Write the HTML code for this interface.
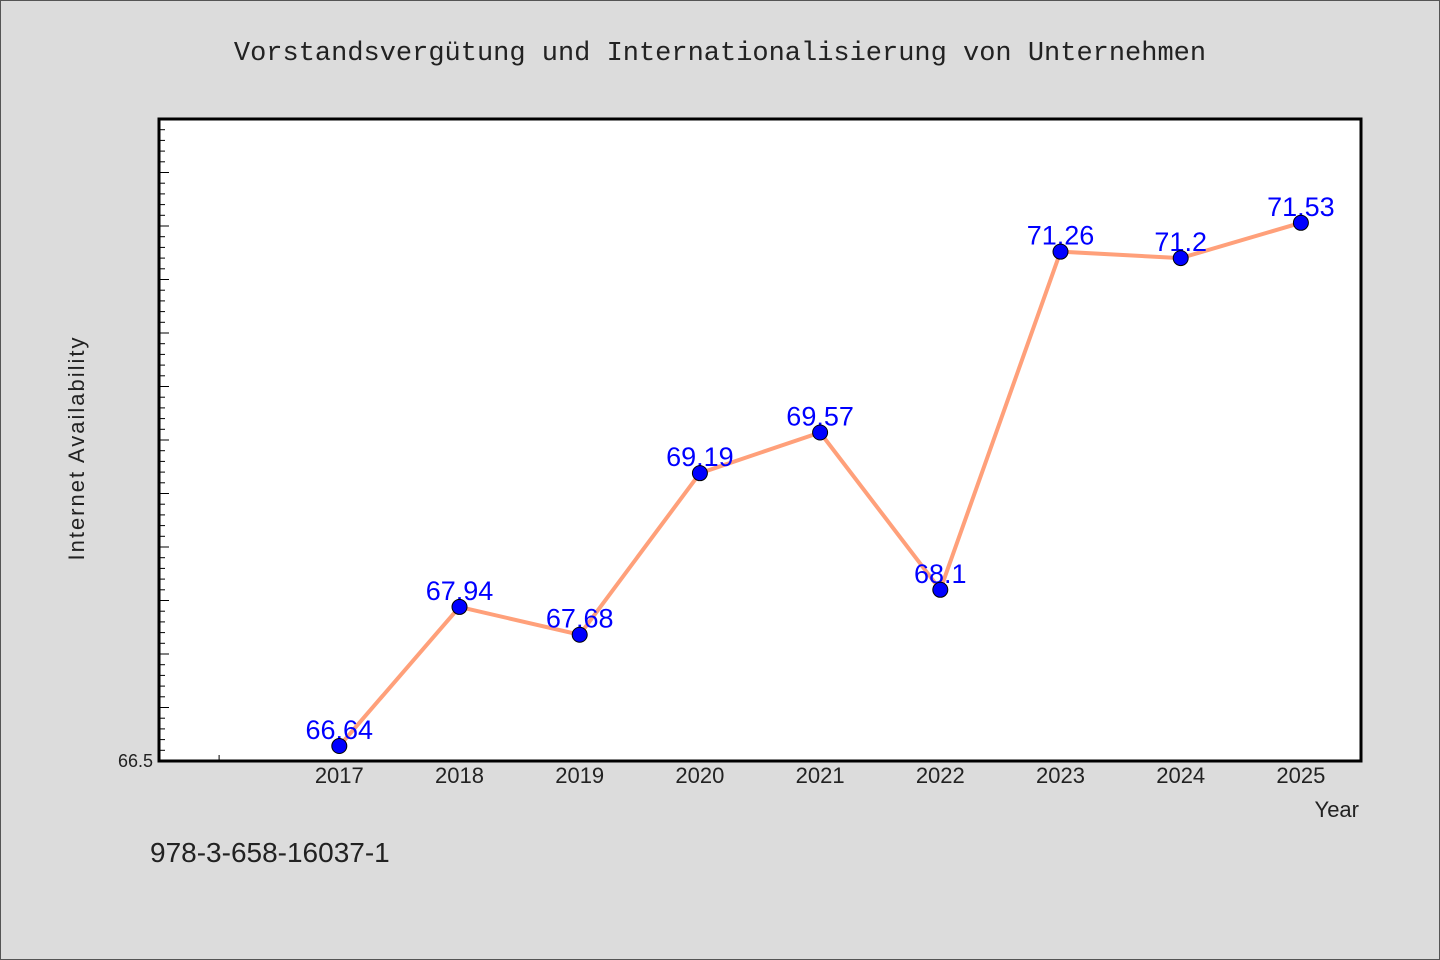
<!DOCTYPE html>
<html><head><meta charset="utf-8"><style>
html,body{margin:0;padding:0;background:#dcdcdc;}
svg{display:block;font-family:"WenQuanYi Zen Hei","Liberation Sans",sans-serif;}
</style></head><body>
<svg id="chart" width="1440" height="960" viewBox="0 0 1440 960" xmlns="http://www.w3.org/2000/svg">
<rect x="0.5" y="0.5" width="1439" height="959" fill="#dcdcdc" stroke="#555" stroke-width="1"/>
<text x="720" y="60" text-anchor="middle" font-size="27" fill="#222" font-family="WenQuanYi Zen Hei Mono, WenQuanYi Zen Hei, Liberation Mono, monospace">Vorstandsvergütung und Internationalisierung von Unternehmen</text>
<rect x="159" y="119" width="1202" height="642" fill="#fff"/>
<g id="ticks"></g>
<g id="series"></g>
<rect x="159" y="119" width="1202" height="642" fill="none" stroke="#000" stroke-width="3"/>
<text transform="translate(84,448) rotate(-90)" text-anchor="middle" font-size="22" fill="#222" letter-spacing="2">Internet Availability</text>
<text x="1359" y="817" text-anchor="end" font-size="22" fill="#222">Year</text>
<text x="150" y="862" font-size="28" fill="#222">978-3-658-16037-1</text>
</svg>
<script>
const years = [2017,2018,2019,2020,2021,2022,2023,2024,2025];
const values = [66.64,67.94,67.68,69.19,69.57,68.1,71.26,71.2,71.53];
const labels = ["66.64","67.94","67.68","69.19","69.57","68.1","71.26","71.2","71.53"];
const yMin = 66.5, yMax = 72.5, xMin = 2015.5, xMax = 2025.5;
const L=159,R=1361,T=119,B=761;
const NS="http://www.w3.org/2000/svg";
function xs(v){return L+(v-xMin)/(xMax-xMin)*(R-L);}
function ys(v){return B-(v-yMin)/(yMax-yMin)*(B-T);}
function mk(tag,attrs,parent){const e=document.createElementNS(NS,tag);for(const k in attrs)e.setAttribute(k,attrs[k]);parent.appendChild(e);return e;}
const tg=document.getElementById('ticks');
for(let i=0;i<=60;i++){
  const v=yMin+i*0.1, y=ys(v), major=i%5===0;
  const t=mk('line',{x1:L,x2:L+(major?10:6),y1:y,y2:y,stroke:'#000','stroke-width':1},tg);
  
  
}
const yl=mk('text',{x:153,y:B+6,'text-anchor':'end','font-size':18,fill:'#222'},tg);


yl.textContent=yMin.toFixed(1);
const t16=mk('line',{x1:xs(2016),x2:xs(2016),y1:B,y2:B-6,stroke:'#000','stroke-width':1},tg);


years.forEach(yr=>{
  const t=mk('text',{x:xs(yr),y:B+22,'text-anchor':'middle','font-size':22,fill:'#222'},tg);
  
  
  t.textContent=yr;
});
const sg=document.getElementById('series');
const pts=years.map((yr,i)=>xs(yr)+','+ys(values[i])).join(' ');
const pl=mk('polyline',{points:pts,fill:'none',stroke:'#ffa07a','stroke-width':4,'stroke-linejoin':'round'},sg);


years.forEach((yr,i)=>{
  const t=mk('text',{x:xs(yr),y:ys(values[i])-7,'text-anchor':'middle','font-size':27,fill:'#0000ff'},sg);
  
  
  t.textContent=labels[i];
});
years.forEach((yr,i)=>{
  const c=mk('circle',{cx:xs(yr),cy:ys(values[i]),r:7.5,fill:'#0000ff',stroke:'#000','stroke-width':1},sg);
  
  
});
</script>
</body></html>
